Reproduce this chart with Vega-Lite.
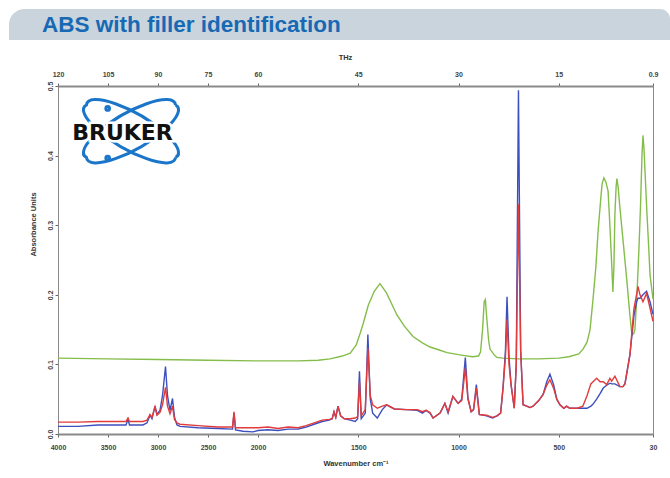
{
  "$schema": "https://vega.github.io/schema/vega-lite/v6.json",
  "background": "white",
  "padding": {"left": 9, "top": 9, "right": 0, "bottom": 0},
  "spacing": 12,
  "columns": 1,
  "align": "none",
  "config": {
    "font": "Liberation Sans",
    "view": {"stroke": null},
    "axis": {
      "labelFont": "Liberation Sans",
      "labelFontSize": 7,
      "labelFontWeight": "bold",
      "labelColor": "#444444",
      "titleFont": "Liberation Sans",
      "titleFontSize": 7.5,
      "titleFontWeight": "bold",
      "titleColor": "#333333",
      "tickColor": "#666666",
      "tickSize": 3,
      "domainColor": "#8a8a8a",
      "grid": false
    }
  },
  "datasets": {
    "filler": [
      {"wavenumber": 4000, "absorbance": 0.109}, {"wavenumber": 3500, "absorbance": 0.108}, {"wavenumber": 3000, "absorbance": 0.107},
      {"wavenumber": 2500, "absorbance": 0.106}, {"wavenumber": 2000, "absorbance": 0.105}, {"wavenumber": 1800, "absorbance": 0.105},
      {"wavenumber": 1700, "absorbance": 0.106}, {"wavenumber": 1640, "absorbance": 0.108}, {"wavenumber": 1580, "absorbance": 0.112},
      {"wavenumber": 1540, "absorbance": 0.116}, {"wavenumber": 1510, "absorbance": 0.128}, {"wavenumber": 1490, "absorbance": 0.145},
      {"wavenumber": 1476, "absorbance": 0.158}, {"wavenumber": 1450, "absorbance": 0.185}, {"wavenumber": 1420, "absorbance": 0.205},
      {"wavenumber": 1392, "absorbance": 0.216}, {"wavenumber": 1360, "absorbance": 0.203}, {"wavenumber": 1330, "absorbance": 0.185},
      {"wavenumber": 1307, "absorbance": 0.171}, {"wavenumber": 1270, "absorbance": 0.155}, {"wavenumber": 1227, "absorbance": 0.140},
      {"wavenumber": 1180, "absorbance": 0.131}, {"wavenumber": 1142, "absorbance": 0.125}, {"wavenumber": 1100, "absorbance": 0.121},
      {"wavenumber": 1057, "absorbance": 0.117}, {"wavenumber": 1000, "absorbance": 0.114}, {"wavenumber": 978, "absorbance": 0.113},
      {"wavenumber": 930, "absorbance": 0.111}, {"wavenumber": 900, "absorbance": 0.112}, {"wavenumber": 890, "absorbance": 0.118},
      {"wavenumber": 880, "absorbance": 0.150}, {"wavenumber": 872, "absorbance": 0.190}, {"wavenumber": 866, "absorbance": 0.193},
      {"wavenumber": 860, "absorbance": 0.170}, {"wavenumber": 850, "absorbance": 0.135}, {"wavenumber": 843, "absorbance": 0.122},
      {"wavenumber": 820, "absorbance": 0.113}, {"wavenumber": 808, "absorbance": 0.110}, {"wavenumber": 780, "absorbance": 0.109},
      {"wavenumber": 700, "absorbance": 0.108}, {"wavenumber": 600, "absorbance": 0.108}, {"wavenumber": 500, "absorbance": 0.109},
      {"wavenumber": 450, "absorbance": 0.111}, {"wavenumber": 400, "absorbance": 0.115}, {"wavenumber": 379, "absorbance": 0.122},
      {"wavenumber": 359, "absorbance": 0.132}, {"wavenumber": 344, "absorbance": 0.150}, {"wavenumber": 329, "absorbance": 0.194},
      {"wavenumber": 315, "absorbance": 0.240}, {"wavenumber": 304, "absorbance": 0.291}, {"wavenumber": 290, "absorbance": 0.340},
      {"wavenumber": 284, "absorbance": 0.359}, {"wavenumber": 275, "absorbance": 0.368}, {"wavenumber": 265, "absorbance": 0.362},
      {"wavenumber": 254, "absorbance": 0.349}, {"wavenumber": 245, "absorbance": 0.300}, {"wavenumber": 235, "absorbance": 0.238},
      {"wavenumber": 230, "absorbance": 0.204}, {"wavenumber": 225, "absorbance": 0.240}, {"wavenumber": 220, "absorbance": 0.316},
      {"wavenumber": 214, "absorbance": 0.355}, {"wavenumber": 210, "absorbance": 0.367}, {"wavenumber": 204, "absorbance": 0.355},
      {"wavenumber": 195, "absorbance": 0.325}, {"wavenumber": 180, "absorbance": 0.280}, {"wavenumber": 160, "absorbance": 0.219},
      {"wavenumber": 145, "absorbance": 0.170}, {"wavenumber": 135, "absorbance": 0.142}, {"wavenumber": 125, "absorbance": 0.145},
      {"wavenumber": 120, "absorbance": 0.151}, {"wavenumber": 110, "absorbance": 0.200}, {"wavenumber": 100, "absorbance": 0.267},
      {"wavenumber": 92, "absorbance": 0.330}, {"wavenumber": 85, "absorbance": 0.400}, {"wavenumber": 80, "absorbance": 0.429},
      {"wavenumber": 75, "absorbance": 0.410}, {"wavenumber": 60, "absorbance": 0.316}, {"wavenumber": 50, "absorbance": 0.260},
      {"wavenumber": 45, "absorbance": 0.229}, {"wavenumber": 30, "absorbance": 0.194}
    ],
    "samples": [
      {"wavenumber": 4000, "blue": 0.011, "red": 0.017}, {"wavenumber": 3800, "blue": 0.011, "red": 0.017},
      {"wavenumber": 3600, "blue": 0.013, "red": 0.018}, {"wavenumber": 3400, "blue": 0.013, "red": 0.018},
      {"wavenumber": 3320, "blue": 0.013, "red": 0.018}, {"wavenumber": 3300, "blue": 0.021, "red": 0.023},
      {"wavenumber": 3285, "blue": 0.013, "red": 0.018}, {"wavenumber": 3150, "blue": 0.013, "red": 0.018},
      {"wavenumber": 3110, "blue": 0.016, "red": 0.020}, {"wavenumber": 3080, "blue": 0.027, "red": 0.028},
      {"wavenumber": 3060, "blue": 0.022, "red": 0.024}, {"wavenumber": 3030, "blue": 0.040, "red": 0.039},
      {"wavenumber": 3010, "blue": 0.028, "red": 0.027}, {"wavenumber": 2980, "blue": 0.034, "red": 0.031},
      {"wavenumber": 2955, "blue": 0.055, "red": 0.042}, {"wavenumber": 2925, "blue": 0.097, "red": 0.067},
      {"wavenumber": 2905, "blue": 0.055, "red": 0.040}, {"wavenumber": 2880, "blue": 0.034, "red": 0.029},
      {"wavenumber": 2855, "blue": 0.051, "red": 0.040}, {"wavenumber": 2835, "blue": 0.024, "red": 0.021},
      {"wavenumber": 2810, "blue": 0.013, "red": 0.016}, {"wavenumber": 2780, "blue": 0.011, "red": 0.014},
      {"wavenumber": 2600, "blue": 0.009, "red": 0.012}, {"wavenumber": 2400, "blue": 0.008, "red": 0.010},
      {"wavenumber": 2255, "blue": 0.007, "red": 0.010}, {"wavenumber": 2240, "blue": 0.030, "red": 0.032},
      {"wavenumber": 2225, "blue": 0.006, "red": 0.009}, {"wavenumber": 2150, "blue": 0.004, "red": 0.009},
      {"wavenumber": 2050, "blue": 0.003, "red": 0.009}, {"wavenumber": 2000, "blue": 0.005, "red": 0.009},
      {"wavenumber": 1950, "blue": 0.006, "red": 0.010}, {"wavenumber": 1900, "blue": 0.005, "red": 0.008},
      {"wavenumber": 1850, "blue": 0.007, "red": 0.010}, {"wavenumber": 1800, "blue": 0.007, "red": 0.009},
      {"wavenumber": 1760, "blue": 0.010, "red": 0.012}, {"wavenumber": 1720, "blue": 0.014, "red": 0.016},
      {"wavenumber": 1680, "blue": 0.018, "red": 0.020}, {"wavenumber": 1645, "blue": 0.020, "red": 0.021},
      {"wavenumber": 1630, "blue": 0.022, "red": 0.022}, {"wavenumber": 1621, "blue": 0.032, "red": 0.032},
      {"wavenumber": 1612, "blue": 0.024, "red": 0.024}, {"wavenumber": 1601, "blue": 0.040, "red": 0.040},
      {"wavenumber": 1588, "blue": 0.026, "red": 0.026}, {"wavenumber": 1570, "blue": 0.022, "red": 0.022},
      {"wavenumber": 1540, "blue": 0.020, "red": 0.022}, {"wavenumber": 1515, "blue": 0.018, "red": 0.023},
      {"wavenumber": 1503, "blue": 0.022, "red": 0.025}, {"wavenumber": 1494, "blue": 0.090, "red": 0.075},
      {"wavenumber": 1485, "blue": 0.022, "red": 0.026}, {"wavenumber": 1465, "blue": 0.030, "red": 0.035},
      {"wavenumber": 1452, "blue": 0.143, "red": 0.123}, {"wavenumber": 1440, "blue": 0.050, "red": 0.055},
      {"wavenumber": 1428, "blue": 0.030, "red": 0.042}, {"wavenumber": 1405, "blue": 0.023, "red": 0.037},
      {"wavenumber": 1380, "blue": 0.035, "red": 0.040}, {"wavenumber": 1358, "blue": 0.042, "red": 0.042},
      {"wavenumber": 1320, "blue": 0.036, "red": 0.036}, {"wavenumber": 1260, "blue": 0.035, "red": 0.035},
      {"wavenumber": 1205, "blue": 0.034, "red": 0.035}, {"wavenumber": 1180, "blue": 0.030, "red": 0.032},
      {"wavenumber": 1162, "blue": 0.034, "red": 0.034}, {"wavenumber": 1142, "blue": 0.030, "red": 0.031},
      {"wavenumber": 1127, "blue": 0.023, "red": 0.023}, {"wavenumber": 1092, "blue": 0.030, "red": 0.030},
      {"wavenumber": 1068, "blue": 0.044, "red": 0.044}, {"wavenumber": 1052, "blue": 0.030, "red": 0.032},
      {"wavenumber": 1028, "blue": 0.054, "red": 0.054}, {"wavenumber": 1002, "blue": 0.044, "red": 0.044},
      {"wavenumber": 984, "blue": 0.050, "red": 0.048}, {"wavenumber": 966, "blue": 0.110, "red": 0.095},
      {"wavenumber": 953, "blue": 0.052, "red": 0.050}, {"wavenumber": 937, "blue": 0.032, "red": 0.032},
      {"wavenumber": 925, "blue": 0.035, "red": 0.035}, {"wavenumber": 911, "blue": 0.071, "red": 0.066},
      {"wavenumber": 896, "blue": 0.028, "red": 0.028}, {"wavenumber": 860, "blue": 0.026, "red": 0.027},
      {"wavenumber": 830, "blue": 0.023, "red": 0.024}, {"wavenumber": 808, "blue": 0.026, "red": 0.026},
      {"wavenumber": 790, "blue": 0.030, "red": 0.030}, {"wavenumber": 778, "blue": 0.066, "red": 0.066},
      {"wavenumber": 766, "blue": 0.120, "red": 0.110}, {"wavenumber": 758, "blue": 0.197, "red": 0.165},
      {"wavenumber": 748, "blue": 0.110, "red": 0.100}, {"wavenumber": 738, "blue": 0.071, "red": 0.071},
      {"wavenumber": 722, "blue": 0.037, "red": 0.037}, {"wavenumber": 712, "blue": 0.100, "red": 0.100},
      {"wavenumber": 701, "blue": 0.494, "red": 0.330}, {"wavenumber": 690, "blue": 0.120, "red": 0.120},
      {"wavenumber": 678, "blue": 0.042, "red": 0.042}, {"wavenumber": 660, "blue": 0.040, "red": 0.040},
      {"wavenumber": 644, "blue": 0.038, "red": 0.038}, {"wavenumber": 628, "blue": 0.040, "red": 0.040},
      {"wavenumber": 600, "blue": 0.048, "red": 0.048}, {"wavenumber": 578, "blue": 0.057, "red": 0.057},
      {"wavenumber": 560, "blue": 0.075, "red": 0.070}, {"wavenumber": 544, "blue": 0.086, "red": 0.078},
      {"wavenumber": 525, "blue": 0.070, "red": 0.065}, {"wavenumber": 510, "blue": 0.050, "red": 0.050},
      {"wavenumber": 494, "blue": 0.042, "red": 0.042}, {"wavenumber": 475, "blue": 0.037, "red": 0.037},
      {"wavenumber": 461, "blue": 0.040, "red": 0.040}, {"wavenumber": 445, "blue": 0.037, "red": 0.037},
      {"wavenumber": 407, "blue": 0.037, "red": 0.037}, {"wavenumber": 380, "blue": 0.037, "red": 0.040},
      {"wavenumber": 359, "blue": 0.037, "red": 0.055}, {"wavenumber": 340, "blue": 0.040, "red": 0.072},
      {"wavenumber": 329, "blue": 0.043, "red": 0.075}, {"wavenumber": 311, "blue": 0.050, "red": 0.080},
      {"wavenumber": 294, "blue": 0.058, "red": 0.075}, {"wavenumber": 278, "blue": 0.066, "red": 0.075},
      {"wavenumber": 261, "blue": 0.070, "red": 0.071}, {"wavenumber": 245, "blue": 0.073, "red": 0.080},
      {"wavenumber": 236, "blue": 0.072, "red": 0.076}, {"wavenumber": 220, "blue": 0.072, "red": 0.083},
      {"wavenumber": 195, "blue": 0.068, "red": 0.068}, {"wavenumber": 180, "blue": 0.068, "red": 0.068},
      {"wavenumber": 170, "blue": 0.072, "red": 0.072}, {"wavenumber": 145, "blue": 0.114, "red": 0.114},
      {"wavenumber": 125, "blue": 0.170, "red": 0.180}, {"wavenumber": 112, "blue": 0.190, "red": 0.200},
      {"wavenumber": 105, "blue": 0.195, "red": 0.212}, {"wavenumber": 95, "blue": 0.195, "red": 0.200},
      {"wavenumber": 80, "blue": 0.200, "red": 0.190}, {"wavenumber": 62, "blue": 0.205, "red": 0.202},
      {"wavenumber": 45, "blue": 0.190, "red": 0.181}, {"wavenumber": 30, "blue": 0.172, "red": 0.162}
    ]
  },
  "concat": [
    {
      "width": 612,
      "height": 31,
      "data": {"values": [{"title": "ABS with filler identification"}]},
      "layer": [
        {
          "mark": {"type": "rect", "color": "#c9d4dd", "cornerRadiusTopLeft": 18, "cornerRadiusTopRight": 10, "clip": false},
          "encoding": {
            "x": {"datum": 0, "type": "quantitative", "scale": {"domain": [0, 1], "range": [-49, 612], "nice": false}, "axis": null},
            "x2": {"datum": 1},
            "y": {"datum": 0, "type": "quantitative", "scale": {"domain": [0, 1], "nice": false}, "axis": null},
            "y2": {"datum": 1}
          }
        },
        {
          "mark": {"type": "text", "align": "left", "baseline": "middle", "font": "Liberation Sans", "fontWeight": "bold", "fontSize": 22.5, "color": "#1769b4"},
          "encoding": {
            "x": {"datum": 0.05, "type": "quantitative"},
            "y": {"datum": 0.47, "type": "quantitative"},
            "text": {"field": "title"}
          }
        }
      ]
    },
    {
      "width": 595,
      "height": 348,
      "view": {"stroke": "#8a8a8a", "strokeWidth": 1},
      "layer": [
        {
          "data": {"name": "filler"},
          "mark": {"type": "line", "color": "#84bd4a", "strokeWidth": 1.4},
          "encoding": {
            "x": {
              "field": "wavenumber", "type": "quantitative",
              "scale": {"domain": [4000, 2000, 30], "range": [0, 200, 595], "nice": false, "zero": false},
              "axis": {
                "orient": "top", "values": [4000, 3500, 3000, 2500, 2000, 1500, 1000, 500, 30],
                "labelExpr": "datum.value == 30 ? '0.9' : format(datum.value * 0.03, 'd')",
                "title": "THz", "titleX": 287, "titlePadding": 9, "labelPadding": 6,
                "domainWidth": 2, "labelFlush": false, "labelOverlap": false
              }
            },
            "y": {
              "field": "absorbance", "type": "quantitative",
              "scale": {"domain": [0, 0.5], "nice": false, "zero": false},
              "axis": null
            }
          }
        },
        {
          "layer": [
            {
              "data": {"name": "samples"},
              "transform": [{"calculate": "datum.blue", "as": "absorbance"}],
              "mark": {"type": "line", "color": "#3d4fbf", "strokeWidth": 1.4},
              "encoding": {
                "x": {
                  "field": "wavenumber", "type": "quantitative",
                  "scale": {"domain": [4000, 2000, 30], "range": [0, 200, 595], "nice": false, "zero": false},
                  "axis": {
                    "orient": "bottom", "values": [4000, 3500, 3000, 2500, 2000, 1500, 1000, 500, 30],
                    "format": "d", "title": "Wavenumber cm⁻¹", "titlePadding": 9, "labelPadding": 6,
                    "domainWidth": 2, "labelFlush": false, "labelOverlap": false
                  }
                },
                "y": {
                  "field": "absorbance", "type": "quantitative",
                  "scale": {"domain": [0, 0.5], "nice": false, "zero": false},
                  "axis": {
                    "orient": "left", "values": [0, 0.1, 0.2, 0.3, 0.4, 0.5], "format": ".1f",
                    "labelAngle": 270, "labelAlign": "center", "labelBaseline": "bottom", "labelPadding": 2,
                    "title": "Absorbance Units", "titlePadding": 9, "titleY": 138, "labelFlush": false
                  }
                }
              }
            },
            {
              "data": {"name": "samples"},
              "transform": [{"calculate": "datum.red", "as": "absorbance"}],
              "mark": {"type": "line", "color": "#e23b3b", "strokeWidth": 1.4},
              "encoding": {
                "x": {"field": "wavenumber", "type": "quantitative"},
                "y": {"field": "absorbance", "type": "quantitative"}
              }
            },
            {
              "data": {"values": [{"logo": "orbits"}]},
              "mark": {
                "type": "point", "filled": false, "stroke": "#1b76c9", "strokeWidth": 3, "size": 11000, "opacity": 1,
                "shape": "M0.85,0.5A1,0.3,30,1,0,-0.85,-0.5A1,0.3,30,1,0,0.85,0.5M0.85,-0.5A1,0.3,-30,1,0,-0.85,0.5A1,0.3,-30,1,0,0.85,-0.5M-0.41,-0.436A0.035,0.035,0,1,0,-0.48,-0.436A0.035,0.035,0,1,0,-0.41,-0.436M-0.41,0.51A0.035,0.035,0,1,0,-0.48,0.51A0.035,0.035,0,1,0,-0.41,0.51"
              },
              "encoding": {
                "x": {"datum": 3270, "type": "quantitative"},
                "y": {"datum": 0.435, "type": "quantitative"}
              }
            },
            {
              "data": {"values": [{"logo": "BRUKER"}]},
              "mark": {"type": "text", "font": "DejaVu Sans", "fontWeight": "bold", "fontSize": 22, "color": "white", "stroke": "white", "strokeWidth": 5, "align": "center", "baseline": "middle"},
              "encoding": {
                "x": {"datum": 3355, "type": "quantitative"},
                "y": {"datum": 0.4325, "type": "quantitative"},
                "text": {"field": "logo"}
              }
            },
            {
              "data": {"values": [{"logo": "BRUKER"}]},
              "mark": {"type": "text", "font": "DejaVu Sans", "fontWeight": "bold", "fontSize": 22, "color": "#111111", "align": "center", "baseline": "middle"},
              "encoding": {
                "x": {"datum": 3355, "type": "quantitative"},
                "y": {"datum": 0.4325, "type": "quantitative"},
                "text": {"field": "logo"}
              }
            }
          ]
        }
      ],
      "resolve": {"scale": {"x": "independent", "y": "independent"}}
    }
  ]
}
